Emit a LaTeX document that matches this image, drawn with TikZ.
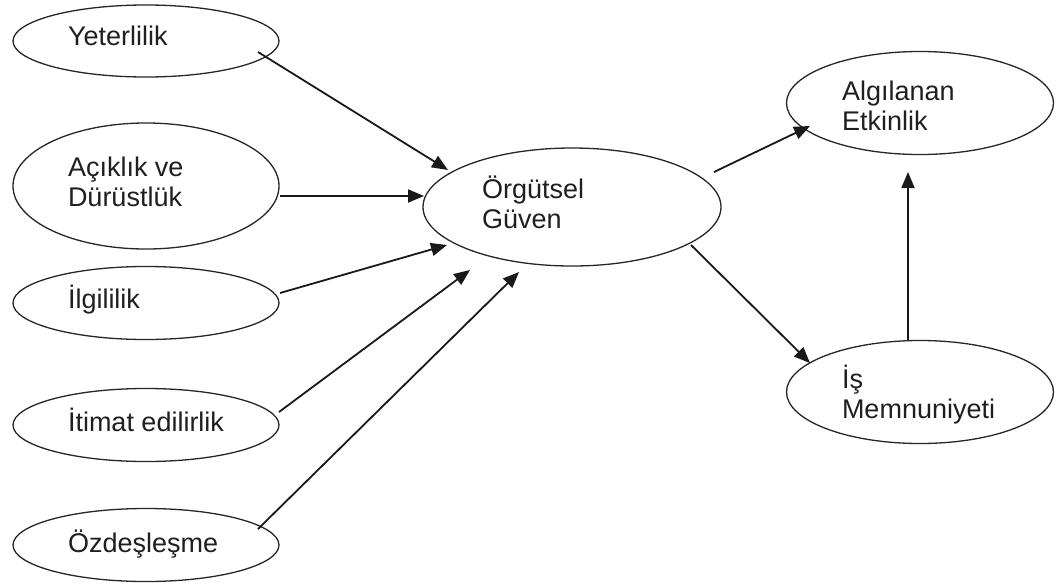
\documentclass[tikz,border=0pt]{standalone}
\usepackage{fontspec}
\setmainfont{Liberation Sans}
\usetikzlibrary{shapes.geometric,arrows.meta,calc}
\tikzset{
  oval/.style={ellipse, draw=black!85, line width=1.3pt, inner sep=0pt, outer sep=0pt},
  lbl/.style={anchor=base west, inner sep=0pt, outer sep=0pt, align=left, text=black!88,
              font=\fontsize{27}{30}\selectfont},
  arr/.style={line width=1.8pt, draw=black!90, -{Triangle[length=16pt,width=13pt]}}
}
\begin{document}
\begin{tikzpicture}[x=1pt,y=-1pt]
\useasboundingbox (0,0) rectangle (1058,584);
% ellipses
\node[oval, minimum width=266, minimum height=72]  (yet) at (146,41) {};
\node[oval, minimum width=266, minimum height=126] (acik) at (146,186) {};
\node[oval, minimum width=266, minimum height=73]  (ilg) at (146,303) {};
\node[oval, minimum width=266, minimum height=73]  (itm) at (146,425) {};
\node[oval, minimum width=266, minimum height=73]  (ozd) at (146,545) {};
\node[oval, minimum width=298, minimum height=118] (og) at (572,207) {};
\node[oval, minimum width=267, minimum height=103] (alg) at (920,103) {};
\node[oval, minimum width=267, minimum height=103] (is) at (920,392) {};
% labels (multi-line labels: base anchor is the last line)
\node[lbl] (yet-t) at ($(yet)+(-78,4)$) {Yeterlilik};
\node[lbl] (acik-t) at ($(acik)+(-78,20)$) {Açıklık ve\\Dürüstlük};
\node[lbl] (ilg-t) at ($(ilg)+(-78,5)$) {İlgililik};
\node[lbl] (itm-t) at ($(itm)+(-78,6)$) {İtimat edilirlik};
\node[lbl] (ozd-t) at ($(ozd)+(-78,7)$) {Özdeşleşme};
\node[lbl] (og-t) at ($(og)+(-90,21)$) {Örgütsel\\Güven};
\node[lbl] (alg-t) at ($(alg)+(-78,27)$) {Algılanan\\Etkinlik};
\node[lbl] (is-t) at ($(is)+(-78,26)$) {İş\\Memnuniyeti};
% connectors
\draw[arr] ($(yet)+(112,11)$) -- ($(og)+(-124,-37)$);
\draw[arr] ($(acik)+(134,10)$) -- ($(og)+(-148,-11)$);
\draw[arr] ($(ilg)+(134,-10)$) -- ($(og)+(-125,38)$);
\draw[arr] ($(itm)+(133,-13)$) -- ($(og)+(-102,63)$);
\draw[arr] ($(ozd)+(112,-16)$) -- ($(og)+(-53,65)$);
\draw[arr] ($(og)+(142,-35)$) -- ($(alg)+(-110,23)$);
\draw[arr] ($(og)+(119,38)$) -- ($(is)+(-110,-29)$);
\draw[arr] ($(is)+(-12,-52)$) -- ($(alg)+(-12,69)$);
\end{tikzpicture}
\end{document}
